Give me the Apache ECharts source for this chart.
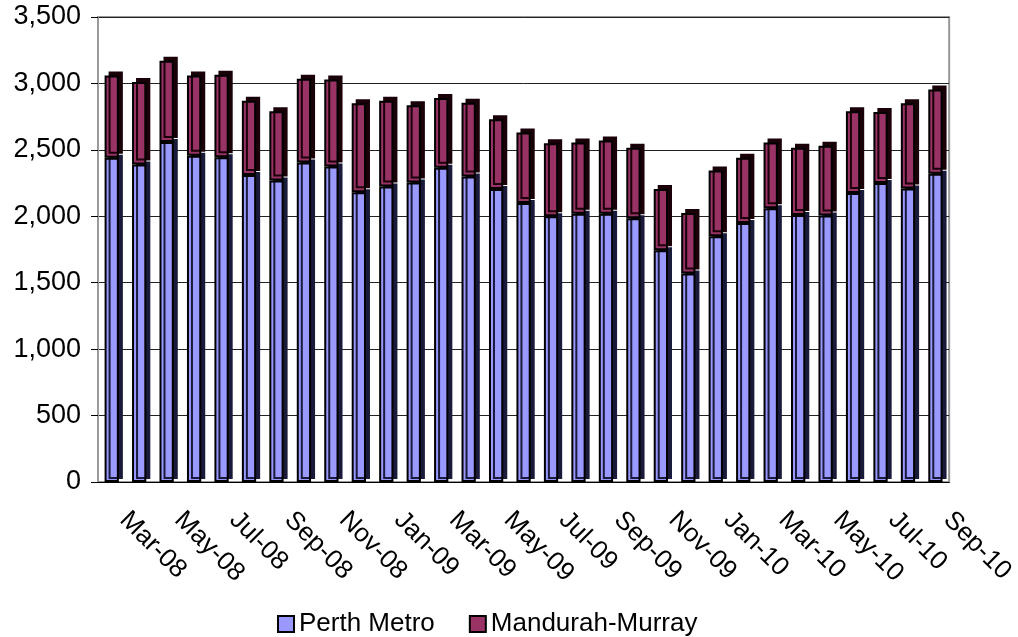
<!DOCTYPE html>
<html>
<head>
<meta charset="utf-8">
<script src="https://cdn.jsdelivr.net/npm/echarts@6/dist/echarts.min.js"></script>
<style>
  html, body { margin: 0; padding: 0; background: #fff; }
  #chart { width: 1018px; height: 637px; }
</style>
</head>
<body>
<div id="chart"></div>
<script>
// months
const months = [
  'Mar-08', 'Apr-08', 'May-08', 'Jun-08', 'Jul-08', 'Aug-08', 'Sep-08', 'Oct-08', 'Nov-08', 'Dec-08',
  'Jan-09', 'Feb-09', 'Mar-09', 'Apr-09', 'May-09', 'Jun-09', 'Jul-09', 'Aug-09', 'Sep-09', 'Oct-09', 'Nov-09', 'Dec-09',
  'Jan-10', 'Feb-10', 'Mar-10', 'Apr-10', 'May-10', 'Jun-10', 'Jul-10', 'Aug-10', 'Sep-10'
]
const perthMetro = [
  2440, 2390, 2560, 2455, 2445, 2310, 2270, 2405, 2375, 2180,
  2225, 2255, 2365, 2300, 2205, 2100, 2000, 2020, 2020, 1985, 1745, 1570,
  1850, 1950, 2060, 2010, 2005, 2175, 2250, 2210, 2320
]
const mandurahMurray = [
  620, 620, 610, 605, 620, 560, 520, 630, 655, 670,
  645, 580, 525, 555, 525, 530, 550, 535, 550, 530, 460, 455,
  495, 490, 495, 505, 525, 615, 535, 640, 635
]

const chart = echarts.init(document.getElementById('chart'))
const font = '"Liberation Sans", Arial, sans-serif'

chart.setOption({
  animation: false,
  textStyle: { fontFamily: font },
  grid: {
    left: 98, right: 66, top: 17, bottom: 155,
    show: true, borderColor: '#999', borderWidth: 2, backgroundColor: '#fff'
  },
  legend: {
    top: 606,
    left: 272,
    icon: 'rect',
    itemWidth: 16,
    itemHeight: 16,
    itemGap: 34,
    textStyle: { fontSize: 26, color: '#000', fontFamily: font },
    data: ['Perth Metro', 'Mandurah-Murray']
  },
  xAxis: {
    type: 'category',
    data: months,
    axisLine: { lineStyle: { color: '#000', width: 1 } },
    axisTick: { interval: 1, length: 7, lineStyle: { color: '#000' } },
    axisLabel: {
      interval: 1, rotate: -45, fontSize: 26, color: '#000', margin: 22,
      padding: [0, 0, 0, 17], fontFamily: font
    }
  },
  yAxis: {
    type: 'value',
    min: 0, max: 3500, interval: 500,
    axisLine: { show: true, lineStyle: { color: '#999', width: 2 } },
    axisTick: { show: true, length: 7, lineStyle: { color: '#000' } },
    splitLine: { lineStyle: { color: '#222', width: 1 } },
    axisLabel: {
      fontSize: 27, color: '#000', margin: 17, fontFamily: font,
      formatter: v => v.toLocaleString('en-US')
    }
  },
  series: [
    {
      name: 'Perth Metro',
      type: 'bar',
      stack: 'total',
      barWidth: '52%',
      data: perthMetro,
      itemStyle: {
        color: '#9999ff', borderColor: '#000', borderWidth: 2,
        shadowColor: '#1a1a3a', shadowBlur: 0, shadowOffsetX: 4, shadowOffsetY: -3
      }
    },
    {
      name: 'Mandurah-Murray',
      type: 'bar',
      stack: 'total',
      data: mandurahMurray,
      itemStyle: {
        color: '#993366', borderColor: '#000', borderWidth: 2,
        shadowColor: '#1a0008', shadowBlur: 0, shadowOffsetX: 4, shadowOffsetY: -4
      }
    }
  ]
})
</script>
</body>
</html>
